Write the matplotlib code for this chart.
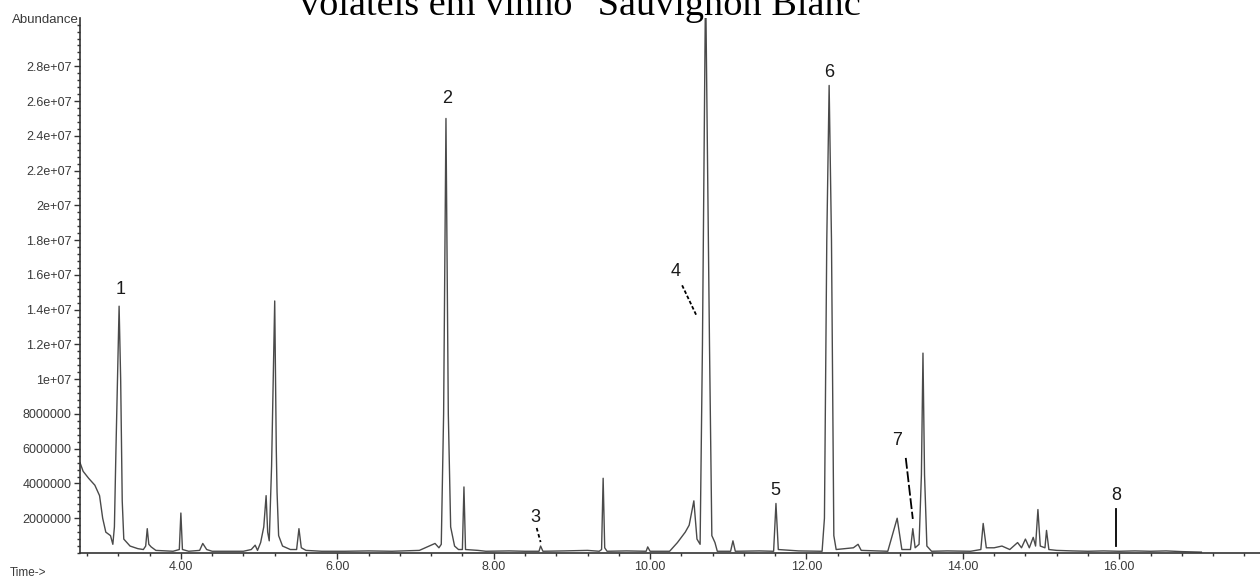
import numpy as np
import matplotlib.pyplot as plt
from matplotlib.ticker import MultipleLocator, FuncFormatter

# chromatogram trace: retention time (min) and abundance (millions of counts)
time = [2.71, 2.75, 2.82, 2.90, 2.96, 3.00, 3.04, 3.10, 3.13,
        3.15, 3.17, 3.19, 3.21, 3.23, 3.25, 3.27, 3.35, 3.45, 3.52,
        3.55, 3.57, 3.59, 3.62, 3.68, 3.90,
        3.98, 4.00, 4.02, 4.10,
        4.24, 4.28, 4.33, 4.40, 4.80, 4.90, 4.95, 4.98,
        5.02, 5.06, 5.09, 5.11, 5.13, 5.16, 5.20, 5.22, 5.23, 5.25, 5.30, 5.40,
        5.48, 5.51, 5.54, 5.60, 5.80, 6.10, 6.40, 6.70,
        7.05, 7.15, 7.25, 7.30, 7.33, 7.36, 7.39, 7.42, 7.45, 7.50, 7.55,
        7.60, 7.62, 7.64, 7.80, 7.90, 8.20, 8.40,
        8.58, 8.60, 8.63, 8.90, 9.20, 9.35,
        9.38, 9.40, 9.42, 9.45, 9.70, 9.95, 9.97, 10.00,
        10.25, 10.35, 10.45, 10.50, 10.56, 10.60, 10.64,
        10.67, 10.71, 10.76, 10.79, 10.83, 10.86, 11.03, 11.06, 11.09,
        11.40, 11.58, 11.61, 11.64, 11.90, 12.20,
        12.23, 12.26, 12.29, 12.32, 12.35, 12.38, 12.60, 12.66, 12.70,
        13.04, 13.16, 13.22, 13.33, 13.36, 13.39,
        13.44, 13.47, 13.49, 13.51, 13.54, 13.60, 13.80, 14.10,
        14.23, 14.26, 14.30, 14.40, 14.50, 14.60, 14.70, 14.75, 14.80,
        14.85, 14.90, 14.93, 14.96, 14.99, 15.05, 15.07, 15.10,
        15.20, 15.40, 15.60, 15.80, 16.00, 16.20, 16.40, 16.60, 16.80, 17.05]
abundance = [5.2, 4.7, 4.3, 3.9, 3.3, 2.0, 1.2, 1.0, 0.5,
             1.5, 6.0, 10.0, 14.2, 10.0, 3.0, 0.8, 0.4, 0.25, 0.2,
             0.4, 1.4, 0.5, 0.35, 0.15, 0.1,
             0.2, 2.3, 0.2, 0.1,
             0.15, 0.55, 0.2, 0.1, 0.1, 0.2, 0.45, 0.15,
             0.6, 1.5, 3.3, 1.2, 0.7, 5.0, 14.5, 6.0, 3.5, 1.0, 0.4, 0.2,
             0.2, 1.4, 0.3, 0.15, 0.1, 0.1, 0.12, 0.1,
             0.15, 0.35, 0.55, 0.3, 0.5, 8.0, 25.0, 8.0, 1.5, 0.4, 0.2,
             0.2, 3.8, 0.2, 0.15, 0.1, 0.12, 0.1,
             0.1, 0.4, 0.1, 0.12, 0.15, 0.1,
             0.2, 4.3, 0.3, 0.1, 0.12, 0.1, 0.35, 0.1,
             0.1, 0.6, 1.2, 1.6, 3.0, 0.8, 0.5,
             12.0, 33.0, 12.0, 1.0, 0.6, 0.1, 0.1, 0.7, 0.1,
             0.12, 0.1, 2.85, 0.2, 0.12, 0.1,
             2.0, 18.0, 26.9, 18.0, 1.0, 0.2, 0.3, 0.5, 0.15,
             0.1, 2.0, 0.2, 0.2, 1.4, 0.3,
             0.5, 4.5, 11.5, 4.5, 0.4, 0.1, 0.12, 0.1,
             0.2, 1.7, 0.3, 0.3, 0.4, 0.2, 0.6, 0.3, 0.8,
             0.3, 0.9, 0.4, 2.5, 0.4, 0.3, 1.3, 0.2,
             0.15, 0.12, 0.1, 0.12, 0.1, 0.12, 0.1, 0.12, 0.08, 0.05]

# numbered compounds: label position (min, millions)
peak_ids = ['1', '2', '3', '4', '5', '6', '7', '8']
label_t = [3.23, 7.40, 8.53, 10.33, 11.60, 12.29, 13.16, 15.96]
label_a = [15.15, 26.15, 2.07, 16.2, 3.57, 27.65, 6.45, 3.28]

# leader lines from label to peak: (t0, a0, t1, a1, style)
leaders = [(8.55, 1.44, 8.60, 0.63, (0, (2, 1.5))),
           (10.41, 15.4, 10.60, 13.6, (0, (2, 1.2))),
           (13.27, 5.47, 13.36, 1.96, (0, (6, 1.5))),
           (15.96, 2.55, 15.96, 0.40, '-')]

fig = plt.figure(figsize=(12.6, 5.77), dpi=100)
ax = fig.add_axes([80/1260, 1-553/577, 1-80/1260, (553-18)/577])

t = np.array(time)
a = np.array(abundance) * 1e6
ax.plot(t, a, color='#4a4a4a', lw=1.0)

for pid, x, y in zip(peak_ids, label_t, label_a):
    ax.text(x, y*1e6, pid, ha='center', va='center', fontsize=13,
            family='Liberation Sans', color='#1a1a1a')
for t0, a0, t1, a1, ls in leaders:
    ax.plot([t0, t1], [a0*1e6, a1*1e6], color='black', lw=1.3, ls=ls)

ax.set_xlim(2.71, 17.8)
ax.set_ylim(0, 3.078e7)

ax.spines['top'].set_visible(False)
ax.spines['right'].set_visible(False)
for s in ['left', 'bottom']:
    ax.spines[s].set_color('#333333')
    ax.spines[s].set_linewidth(1.2)

ax.set_xticks(np.arange(4, 17, 2))
ax.xaxis.set_minor_locator(MultipleLocator(0.4))
ax.xaxis.set_major_formatter(FuncFormatter(lambda v, p: '%.2f' % v))
ax.set_yticks(np.arange(2e6, 2.9e7, 2e6))
ax.yaxis.set_minor_locator(MultipleLocator(4e5))


def yfmt(v, p):
    if v < 1e7:
        return '%d' % v
    return '%ge+07' % (v / 1e7)


ax.yaxis.set_major_formatter(FuncFormatter(yfmt))
ax.tick_params(axis='both', which='major', labelsize=9, colors='#333333',
               labelcolor='#3a3a3a', length=4, width=1, pad=2)
ax.tick_params(axis='both', which='minor', colors='#333333', length=2, width=1)
for lab in ax.get_xticklabels() + ax.get_yticklabels():
    lab.set_family('Liberation Sans')

fig.text(79/1260, 1-20/577, 'Abundance', ha='right', va='center',
         fontsize=9.5, family='Liberation Sans', color='#3a3a3a')
fig.text(10/1260, 1-573/577, 'Time->', ha='left', va='center',
         fontsize=8.5, family='Liberation Sans', color='#3a3a3a')
fig.text(588/1260, 1-15/577, 'vol\u00e1teis em vinho "Sauvignon Blanc"',
         ha='center', va='baseline', fontsize=27.5, family='Liberation Serif')

fig.savefig('out.png', dpi=100)
